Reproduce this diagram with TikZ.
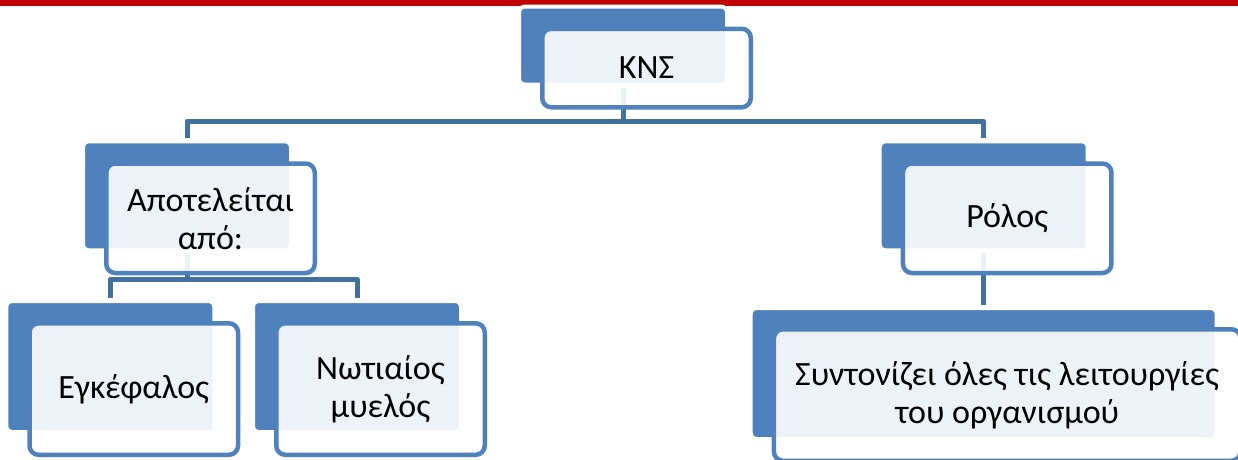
\documentclass[tikz,border=0pt]{standalone}
\usepackage{fontspec}
\setmainfont{Carlito}
\definecolor{accent}{HTML}{4F81BD}
\definecolor{connblue}{HTML}{41719C}
\definecolor{topred}{HTML}{C00000}
\pgfdeclarelayer{background}
\pgfsetlayers{background,main}
\begin{document}
\begin{tikzpicture}[x=1pt,y=-1pt,
  backbox/.style={rectangle, rounded corners=6pt, fill=accent, draw=white, line width=4pt, inner sep=0pt, outer sep=0pt, anchor=north west},
  frontbox/.style={rectangle, rounded corners=9pt, fill=white, fill opacity=0.9, text opacity=1, draw=accent, draw opacity=1, line width=4.5pt, inner sep=0pt, outer sep=0pt, anchor=north west, align=center, font=\fontsize{34}{38}\selectfont},
  conn/.style={draw=connblue, line width=5pt, line join=round}]
\useasboundingbox (0,0) rectangle (1238,459);
\clip (0,0) rectangle (1238,459);
\fill[topred] (0,0) rectangle (1238,5.5);
% junction levels
\coordinate (h1) at (0,121);
\coordinate (h2) at (0,279.5);
% boxes
\node[backbox, minimum width=208pt, minimum height=78pt] (knsB) at (519,6.5) {};
\node[frontbox, minimum width=208.5pt, minimum height=78.5pt] (kns) at (542.25,28.75) {ΚΝΣ};
\node[backbox, minimum width=208pt, minimum height=109pt] (apoB) at (83,141.3) {};
\node[frontbox, minimum width=208.5pt, minimum height=109.5pt] (apo) at (106.25,163.5) {Αποτελείται\\από:};
\node[backbox, minimum width=208pt, minimum height=131pt] (egB) at (6.3,301) {};
\node[frontbox, minimum width=208.5pt, minimum height=131.5pt] (eg) at (29.5,323.25) {Εγκέφαλος};
\node[backbox, minimum width=208pt, minimum height=131pt] (nwB) at (253,301) {};
\node[frontbox, minimum width=208.5pt, minimum height=131.5pt] (nw) at (276.25,323.25) {Νωτιαίος\\μυελός};
\node[backbox, minimum width=208pt, minimum height=109pt] (rolB) at (879.7,141.3) {};
\node[frontbox, minimum width=208.5pt, minimum height=109.5pt] (rol) at (902.95,163.5) {Ρόλος};
\node[backbox, minimum width=466pt, minimum height=131pt] (synB) at (750.7,308) {};
\node[frontbox, minimum width=466.5pt, minimum height=131.5pt] (syn) at (773.95,329.25) {Συντονίζει όλες τις λειτουργίες\\του οργανισμού};
% connectors, behind the boxes
\begin{pgfonlayer}{background}
\draw[conn] ([yshift=-3pt]knsB.south) -- (knsB.south |- h1);
\draw[conn] ([yshift=3pt]apoB.north) -- (apoB.north |- h1) -- (rolB.north |- h1) -- ([yshift=3pt]rolB.north);
\draw[conn] ([yshift=-3pt]apoB.south) -- (apoB.south |- h2);
\draw[conn] ([yshift=3pt]egB.north) -- (egB.north |- h2) -- (nwB.north |- h2) -- ([yshift=3pt]nwB.north);
\draw[conn] ([yshift=-3pt]rolB.south) -- ([yshift=3pt]synB.north);
\end{pgfonlayer}
\end{tikzpicture}
\end{document}
